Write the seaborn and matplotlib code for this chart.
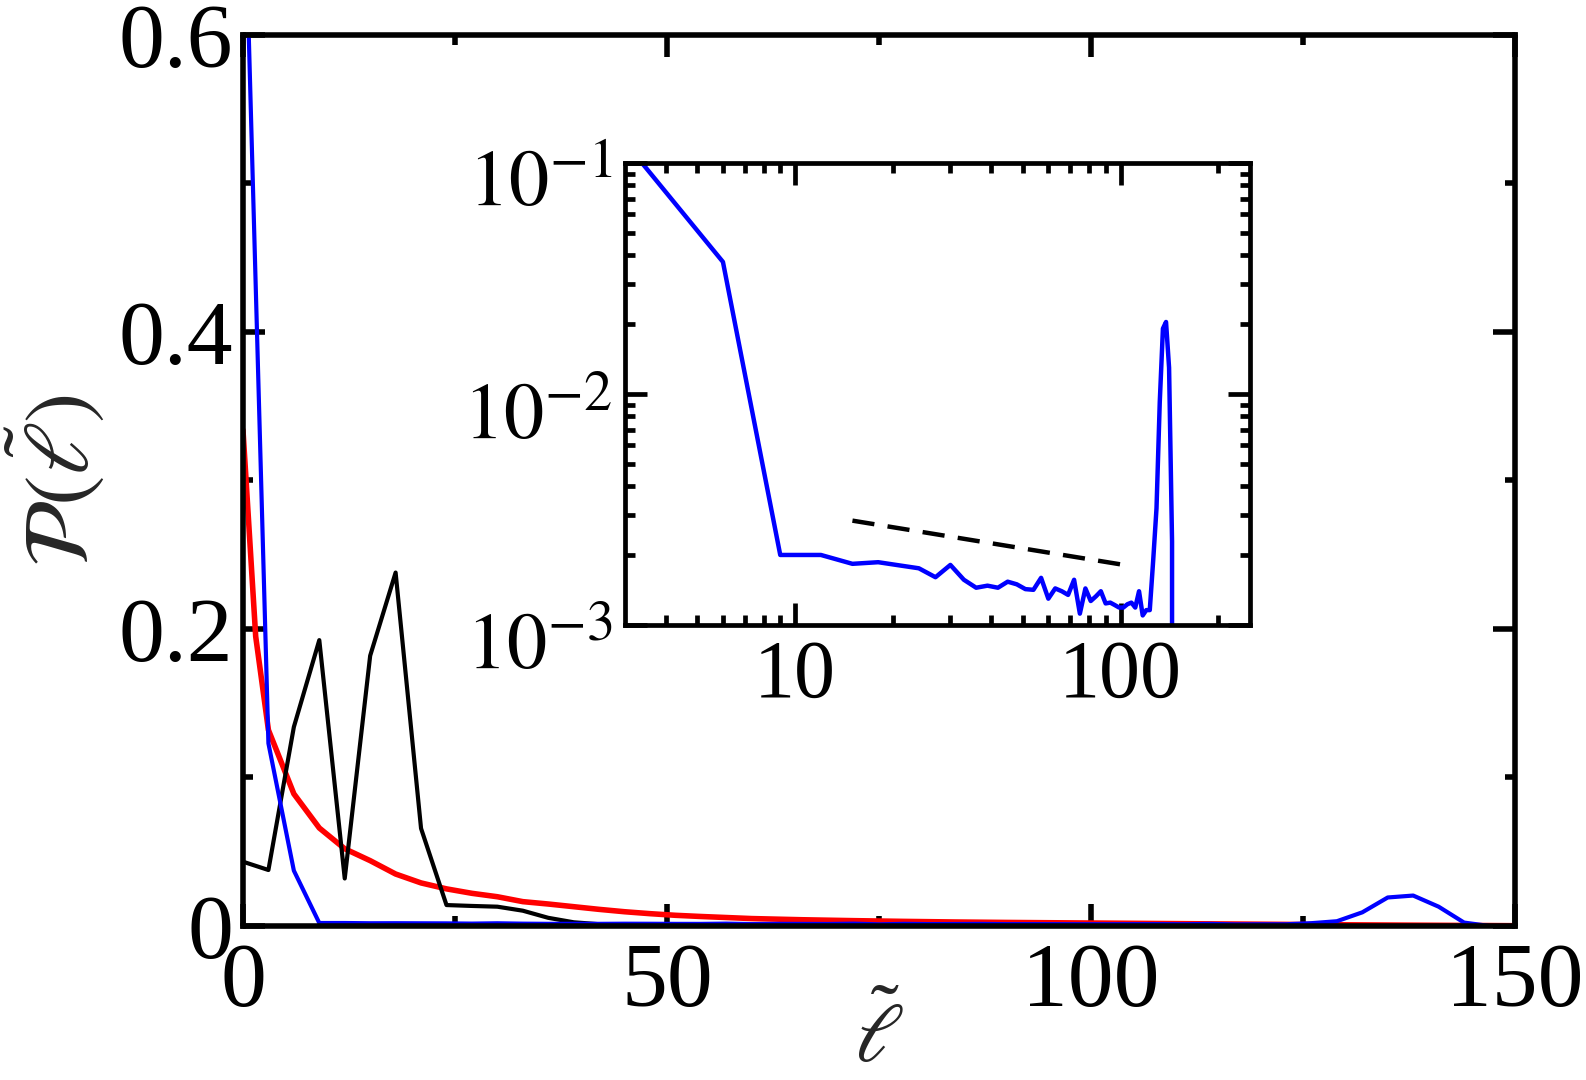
"""
Distribusi P(l~) — panel utama linear + inset log-log.
"""
import numpy as np
import matplotlib
matplotlib.use("Agg")
import matplotlib.pyplot as plt
import matplotlib.transforms as mtransforms
import seaborn as sns
from matplotlib.ticker import FixedLocator, NullFormatter

# ── Data ─────────────────────────────────────────────────────────────────────
ELL = list(range(0, 151, 3))

BLUE = [0.74, 0.123, 0.0373, 0.00201, 0.00201, 0.00184, 0.00187, 0.00181,
        0.00176, 0.00161, 0.00182, 0.00157, 0.00145, 0.00148, 0.00145, 0.00154,
        0.0015, 0.00143, 0.00142, 0.0016, 0.0013, 0.00144, 0.0014, 0.00135,
        0.00157, 0.00112, 0.00144, 0.00127, 0.00133, 0.0014, 0.00124, 0.00125,
        0.00122, 0.00119, 0.00119, 0.00123, 0.00125, 0.00119, 0.0014, 0.0011,
        0.00116, 0.00116, 0.0019, 0.0032, 0.0092, 0.0192, 0.0205, 0.013,
        0.0023, 0.0, 0.0]

BLACK = [0.0433, 0.0377, 0.134, 0.1925, 0.032, 0.182, 0.238, 0.0657, 0.0141,
         0.0135, 0.013, 0.0103, 0.0055, 0.0025, 0.0012, 0.0006, 0.0003] + [0.0] * 34

RED_X = [0, 1.5, 3, 6, 9, 12, 15, 18, 21, 24, 27, 30, 33, 36, 39, 42, 45, 48,
         51, 54, 60, 66, 72, 78, 84, 90, 100, 110, 120, 130, 140, 150]
RED = [0.334, 0.195, 0.132, 0.089, 0.066, 0.052, 0.044, 0.035, 0.029, 0.025,
       0.022, 0.0197, 0.0164, 0.0148, 0.013, 0.0112, 0.0096, 0.0083, 0.0072,
       0.0064, 0.005, 0.0042, 0.0036, 0.0031, 0.0027, 0.0024, 0.002, 0.0016,
       0.0012, 0.0008, 0.0005, 0.0002]

GUIDE_X = [15, 105]
GUIDE_Y = [0.00283, 0.00181]

X_TICKS = [0, 50, 100, 150]
X_LABELS = ["0", "50", "100", "150"]
Y_TICKS = [0, 0.2, 0.4, 0.6]
Y_LABELS = ["0", "0.2", "0.4", "0.6"]
INSET_X_TICKS = [10, 100]
INSET_X_LABELS = ["10", "100"]
INSET_Y_TICKS = [1e-3, 1e-2, 1e-1]
INSET_Y_LABELS = [r"$10^{-3}$", r"$10^{-2}$", r"$10^{-1}$"]

# ── Style ────────────────────────────────────────────────────────────────────
sns.set_style("ticks")
plt.rcParams["font.family"] = ["Liberation Serif", "DejaVu Serif"]
plt.rcParams["mathtext.fontset"] = "stix"

fig = plt.figure(figsize=(15.86, 10.8), dpi=100)

# ── Panel utama ──────────────────────────────────────────────────────────────
ax = fig.add_axes([0.1532, 0.1426, 0.802, 0.825])
sns.lineplot(x=RED_X, y=RED, color="#ff0000", lw=4.0, ax=ax, legend=False)
sns.lineplot(x=ELL, y=BLACK, color="black", lw=3.0, ax=ax, legend=False)
sns.lineplot(x=ELL, y=BLUE, color="#0000ff", lw=3.0, ax=ax, legend=False)

ax.set_xlim(0, 150)
ax.set_ylim(0, 0.6)
ax.xaxis.set_major_locator(FixedLocator(X_TICKS))
ax.xaxis.set_minor_locator(FixedLocator([25, 75, 125]))
ax.yaxis.set_major_locator(FixedLocator(Y_TICKS))
ax.yaxis.set_minor_locator(FixedLocator([0.1, 0.3, 0.5]))
ax.set_xticklabels(X_LABELS)
ax.set_yticklabels(Y_LABELS)
ax.tick_params(which="both", direction="in", top=True, right=True,
               width=4, labelsize=66, colors="black")
ax.tick_params(axis="x", which="major", length=16, pad=12)
ax.tick_params(axis="y", which="major", length=16, pad=7)
ax.tick_params(which="minor", length=7.5)
for sp in ax.spines.values():
    sp.set_linewidth(4.0)
    sp.set_color("black")

ax.set_xlabel(r"$\tilde{\ell}$", fontsize=60)
ax.set_ylabel(r"$\mathcal{P}(\tilde{\ell})$", fontsize=66)
ax.xaxis.set_label_coords(0.5, -0.082)
ax.yaxis.set_label_coords(-0.106, 0.5)

# ── Inset log-log ────────────────────────────────────────────────────────────
ax_in = fig.add_axes([625 / 1586, 1 - 625 / 1080, 625 / 1586, 462 / 1080])
sns.lineplot(x=ELL[1:], y=BLUE[1:], color="#0000ff", lw=3.2, ax=ax_in, legend=False)
sns.lineplot(x=GUIDE_X, y=GUIDE_Y, color="black", lw=3.2, ax=ax_in, legend=False)
ax_in.lines[-1].set_dashes([5, 3])

ax_in.set_xscale("log")
ax_in.set_yscale("log")
ax_in.set_xlim(3, 250)
ax_in.set_ylim(1e-3, 1e-1)
ax_in.xaxis.set_major_locator(FixedLocator(INSET_X_TICKS))
ax_in.xaxis.set_minor_locator(FixedLocator([4, 5, 6, 7, 8, 9, 20, 30, 40, 50, 60, 70, 80, 90, 200]))
ax_in.yaxis.set_major_locator(FixedLocator(INSET_Y_TICKS))
ax_in.yaxis.set_minor_locator(FixedLocator([k * 1e-3 for k in range(2, 10)] + [k * 1e-2 for k in range(2, 10)]))
ax_in.xaxis.set_minor_formatter(NullFormatter())
ax_in.yaxis.set_minor_formatter(NullFormatter())
ax_in.set_xticklabels(INSET_X_LABELS)
ax_in.set_yticklabels(INSET_Y_LABELS)
ax_in.tick_params(which="both", direction="in", top=True, right=True,
                  width=3.4, colors="black")
ax_in.tick_params(axis="x", which="major", length=16, pad=10, labelsize=59)
ax_in.tick_params(axis="y", which="major", length=16, pad=9, labelsize=58)
ax_in.tick_params(which="minor", length=7)
for sp in ax_in.spines.values():
    sp.set_linewidth(3.4)
    sp.set_color("black")
ax_in.set_xlabel("")
ax_in.set_ylabel("")

# label y inset sedikit turun, seperti aslinya
shift = mtransforms.ScaledTranslation(0, -16 / 100, fig.dpi_scale_trans)
for lab in ax_in.get_yticklabels():
    lab.set_transform(lab.get_transform() + shift)

fig.savefig("out.png", dpi=100)
